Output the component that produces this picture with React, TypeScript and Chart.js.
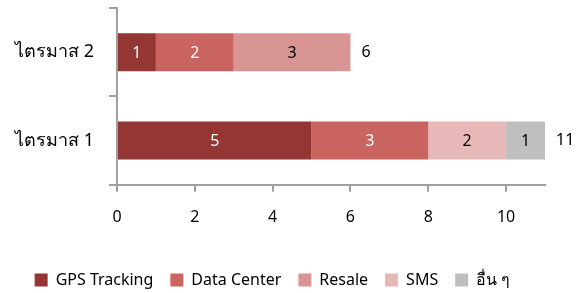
import React, { useEffect, useRef } from "react";
import { Chart, registerables } from "chart.js";

Chart.register(...registerables);

const categories = ["ไตรมาส 2", "ไตรมาส 1"];
const seriesNames = ["GPS Tracking", "Data Center", "Resale", "SMS", "อื่น ๆ"];
const gpsTracking = [1, 5];
const dataCenter = [2, 3];
const resale = [3, 0];
const sms = [0, 2];
const others = [0, 1];
const xTicks = [0, 2, 4, 6, 8, 10];

const colors = ["#943634", "#C96461", "#D99594", "#E6B8B7", "#BFBFBF"];
const labelColors = ["#FFFFFF", "#FFFFFF", "#000000", "#000000", "#000000"];
const FONT = "'Noto Sans', 'DejaVu Sans', sans-serif";

const labelPlugin = {
  id: "barLabels",
  afterDatasetsDraw(chart: any) {
    const ctx = chart.ctx;
    ctx.save();
    ctx.font = `16px ${FONT}`;
    ctx.textAlign = "center";
    ctx.textBaseline = "middle";
    const n = chart.data.labels.length;
    const totals = new Array(n).fill(0);
    const rightEdge = new Array(n).fill(0);
    const yPos = new Array(n).fill(0);
    chart.data.datasets.forEach((ds: any, di: number) => {
      const meta = chart.getDatasetMeta(di);
      meta.data.forEach((el: any, i: number) => {
        const v = ds.data[i];
        totals[i] += v;
        yPos[i] = el.y;
        if (el.x > rightEdge[i]) rightEdge[i] = el.x;
        if (!v) return;
        ctx.fillStyle = labelColors[di];
        ctx.fillText(String(v), (el.x + el.base) / 2, el.y + 1);
      });
    });
    ctx.fillStyle = "#000000";
    ctx.textAlign = "left";
    for (let i = 0; i < n; i++) {
      ctx.fillText(String(totals[i]), rightEdge[i] + 11, yPos[i]);
    }
    ctx.restore();
  },
};

export default function App() {
  const ref = useRef<HTMLCanvasElement>(null);
  useEffect(() => {
    const seriesData = [gpsTracking, dataCenter, resale, sms, others];
    const chart = new Chart(ref.current!, {
      type: "bar",
      data: {
        labels: categories,
        datasets: seriesNames.map((name, i) => ({
          label: name,
          data: seriesData[i],
          backgroundColor: colors[i],
          borderWidth: 0,
          categoryPercentage: 1,
          barPercentage: 0.43,
        })),
      },
      options: {
        indexAxis: "y",
        animation: false,
        responsive: true,
        maintainAspectRatio: false,
        layout: { padding: { top: 8, right: 34, left: 0, bottom: -5 } },
        scales: {
          x: {
            stacked: true,
            min: 0,
            max: 11,
            afterBuildTicks: (axis: any) => {
              axis.ticks = xTicks.map((v) => ({ value: v }));
            },
            afterFit: (axis: any) => {
              axis.height += 12;
            },
            border: { color: "#A0A0A0", width: 2 },
            grid: {
              drawOnChartArea: false,
              drawTicks: true,
              tickLength: 7,
              color: "#A0A0A0",
              lineWidth: 2,
            },
            ticks: {
              color: "#000000",
              font: { family: FONT, size: 16 },
              padding: 16,
            },
          },
          y: {
            stacked: true,
            afterFit: (axis: any) => {
              axis.paddingTop = 0;
              axis.paddingBottom = 0;
            },
            border: { color: "#A0A0A0", width: 2 },
            grid: {
              drawOnChartArea: false,
              drawTicks: true,
              tickLength: 8,
              color: "#A0A0A0",
              lineWidth: 2,
              offset: true,
            },
            ticks: {
              color: "#000000",
              font: { family: FONT, size: 18 },
              padding: 15,
            },
          },
        },
        plugins: {
          legend: {
            position: "bottom",
            labels: {
              color: "#000000",
              font: { family: FONT, size: 16 },
              boxWidth: 13,
              boxHeight: 13,
              padding: 17,
            },
          },
          tooltip: { enabled: false },
        },
      },
      plugins: [labelPlugin],
    });
    return () => chart.destroy();
  }, []);
  return (
    <div style={{ position: "fixed", left: 0, top: 0, width: 579, height: 293, background: "#fff" }}>
      <canvas ref={ref} />
    </div>
  );
}
